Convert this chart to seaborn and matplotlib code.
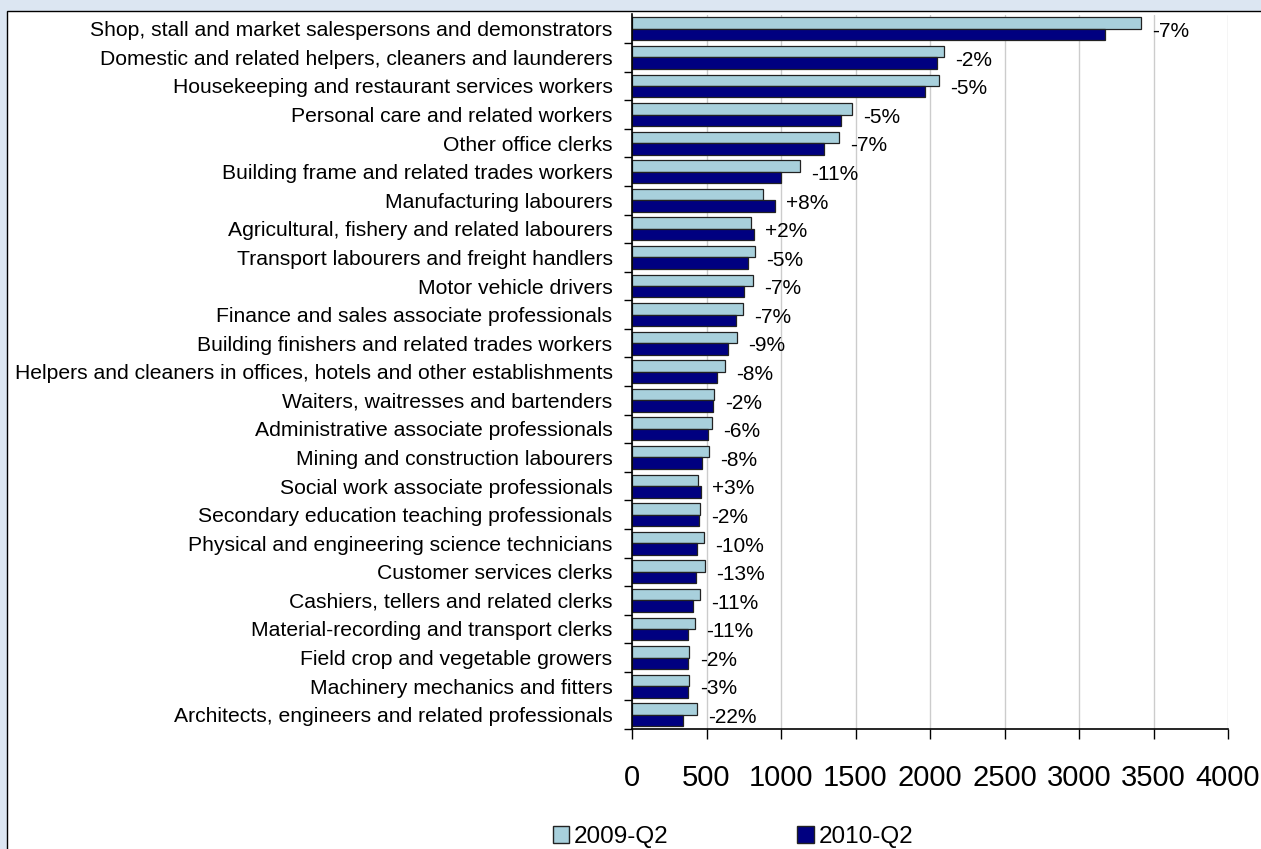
import matplotlib
matplotlib.use("Agg")
import matplotlib.pyplot as plt
import matplotlib.patches as mpatches
import numpy as np
import pandas as pd
import seaborn as sns

occupations = [
    "Shop, stall and market salespersons and demonstrators",
    "Domestic and related helpers, cleaners and launderers",
    "Housekeeping and restaurant services workers",
    "Personal care and related workers",
    "Other office clerks",
    "Building frame and related trades workers",
    "Manufacturing labourers",
    "Agricultural, fishery and related labourers",
    "Transport labourers and freight handlers",
    "Motor vehicle drivers",
    "Finance and sales associate professionals",
    "Building finishers and related trades workers",
    "Helpers and cleaners in offices, hotels and other establishments",
    "Waiters, waitresses and bartenders",
    "Administrative associate professionals",
    "Mining and construction labourers",
    "Social work associate professionals",
    "Secondary education teaching professionals",
    "Physical and engineering science technicians",
    "Customer services clerks",
    "Cashiers, tellers and related clerks",
    "Material-recording and transport clerks",
    "Field crop and vegetable growers",
    "Machinery mechanics and fitters",
    "Architects, engineers and related professionals",
]
q2_2009 = [3413, 2094, 2060, 1474, 1391, 1127, 881, 797, 823, 814, 747, 705,
           626, 550, 536, 515, 441, 458, 483, 492, 458, 425, 383, 384, 434]
q2_2010 = [3173, 2050, 1969, 1400, 1289, 1002, 960, 817, 781, 754, 696, 644,
           568, 541, 507, 470, 461, 450, 434, 427, 407, 374, 374, 373, 340]
change_labels = ["-7%", "-2%", "-5%", "-5%", "-7%", "-11%", "+8%", "+2%", "-5%",
                 "-7%", "-7%", "-9%", "-8%", "-2%", "-6%", "-8%", "+3%", "-2%",
                 "-10%", "-13%", "-11%", "-11%", "-2%", "-3%", "-22%"]
series = ["2009-Q2", "2010-Q2"]

df = pd.DataFrame({
    "occupation": occupations * 2,
    "period": [series[0]] * len(occupations) + [series[1]] * len(occupations),
    "value": q2_2009 + q2_2010,
})

sns.set_style("white")
plt.rcParams["font.family"] = ["Liberation Sans", "DejaVu Sans"]
plt.rcParams["text.color"] = "black"
plt.rcParams["xtick.color"] = "black"
plt.rcParams["ytick.color"] = "black"

fig = plt.figure(figsize=(12.61, 8.49), dpi=100)
fig.patch.set_facecolor("#dce6f2")
# white chart area with black border (left and top visible)
fig.patches.append(mpatches.Rectangle((7 / 1261, -0.05), 1.2, 1 - 11 / 849 + 0.05,
                                      transform=fig.transFigure, facecolor="white",
                                      edgecolor="black", linewidth=1, zorder=-10))

ax = fig.add_axes([632 / 1261, 1 - 729 / 849, (1228 - 632) / 1261, (729 - 14.5) / 849])
ax.set_facecolor("white")

sns.barplot(data=df, y="occupation", x="value", hue="period", orient="h",
            palette={"2009-Q2": "#a8d0dc", "2010-Q2": "#000080"}, saturation=1,
            edgecolor="#222222", linewidth=0.9, width=0.8, ax=ax, legend=False)

ax.set_xlim(0, 4000)
ax.set_ylim(len(occupations) - 0.5, -0.5)
ax.set_xticks(np.arange(0, 4001, 500))
ax.xaxis.grid(True, color="#cccccc", linewidth=1)
ax.set_axisbelow(True)
ax.set_xlabel("")
ax.set_ylabel("")

for s in ["top", "right"]:
    ax.spines[s].set_visible(False)
for s in ["left", "bottom"]:
    ax.spines[s].set_color("black")
    ax.spines[s].set_linewidth(1.2)

ax.tick_params(axis="x", direction="out", length=7, width=1, color="black",
               labelsize=21, pad=18, bottom=True)
ax.set_yticks(np.arange(len(occupations)))
ax.set_yticklabels(occupations)
ax.set_yticks(np.arange(len(occupations)) + 0.5, minor=True)
ax.tick_params(axis="y", which="major", length=0, labelsize=15.2, pad=14)
ax.tick_params(axis="y", which="minor", direction="out", length=6, width=1,
               color="black", left=True)

for i, lab in enumerate(change_labels):
    ax.annotate(lab, xy=(max(q2_2009[i], q2_2010[i]), i), xytext=(8, -2),
                textcoords="offset points", va="center", ha="left", fontsize=15)

handles = [mpatches.Patch(facecolor="#a8d0dc", edgecolor="#222222", label=series[0]),
           mpatches.Patch(facecolor="#000080", edgecolor="#222222", label=series[1])]
fig.legend(handles=handles, loc="center", bbox_to_anchor=(733 / 1261, 1 - 837 / 849),
           ncol=2, frameon=False, fontsize=17.5, handlelength=0.68, handleheight=0.68,
           handletextpad=0.2, columnspacing=5.3, borderaxespad=0)

fig.savefig("out.png", dpi=100, facecolor=fig.get_facecolor())
